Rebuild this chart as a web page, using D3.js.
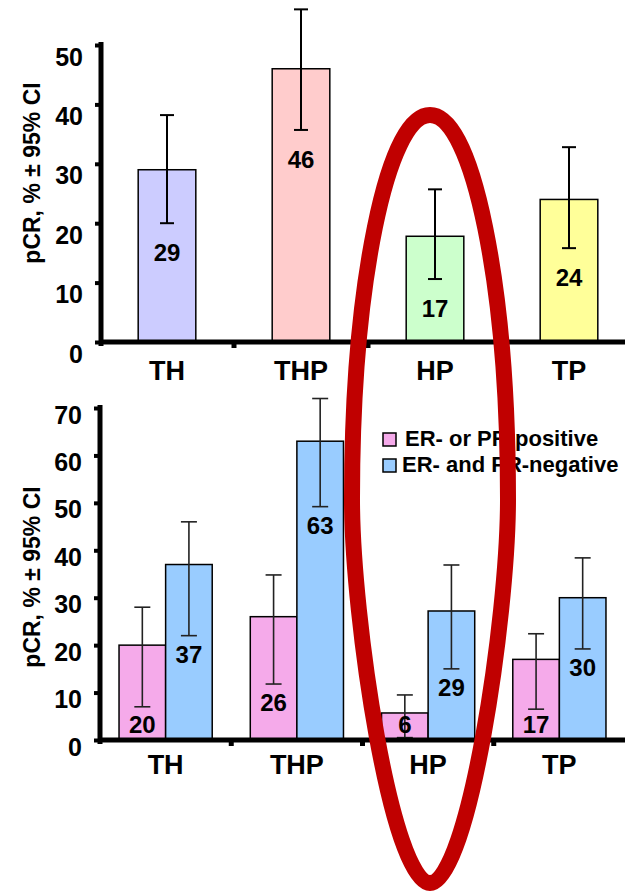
<!DOCTYPE html>
<html><head><meta charset="utf-8">
<script src="https://cdn.jsdelivr.net/npm/d3@7"></script>
<style>
body{margin:0;background:#fff}
text{font-family:"Liberation Sans",Arial,sans-serif;font-weight:bold;fill:#000}
</style>
</head><body><svg id="c" width="625" height="892"></svg>
<script>
// ---------- data ----------
const categories = ["TH", "THP", "HP", "TP"];
const topValues = [29, 46, 17.8, 24];
const topLabels = ["29", "46", "17", "24"];
const topLow = [20, 35.7, 10.6, 15.8];
const topHigh = [38.2, 56, 25.7, 32.8];
const topColors = ["#CCCCFF", "#FFCCCC", "#CCFFCC", "#FFFF99"];
const topTicks = [0, 10, 20, 30, 40, 50];

const seriesNames = ["ER- or PR-positive", "ER- and PR-negative"];
const seriesColors = ["#F5AAEA", "#99CCFF"];
const posValues = [20, 26, 5.7, 17];
const negValues = [37, 63, 27.2, 30];
const posLabels = ["20", "26", "6", "17"];
const negLabels = ["37", "63", "29", "30"];
const posLow = [7, 11.8, 0.5, 6.5];
const posHigh = [28, 34.8, 9.5, 22.4];
const negLow = [22, 49.2, 15, 19.2];
const negHigh = [46, 72, 36.9, 38.4];
const bottomTicks = [0, 10, 20, 30, 40, 50, 60, 70];
const yTitle = "pCR, % \u00B1 95% CI";

// ---------- drawing ----------
const svg = d3.select("#c");
svg.append("rect").attr("width", 625).attr("height", 892).attr("fill", "#fff");

function axes(g, x, y, ticks, o) {
  const y0 = y(0);
  g.append("line").attr("x1", o.axisX - 2).attr("x2", 625).attr("y1", y0).attr("y2", y0)
    .attr("stroke", "#000").attr("stroke-width", 5);
  g.selectAll(".bt").data(categories.slice(1)).join("line")
    .attr("x1", d => x(d)).attr("x2", d => x(d))
    .attr("y1", y0).attr("y2", y0 + 6).attr("stroke", "#000").attr("stroke-width", 5);
  g.selectAll(".cl").data(categories).join("text")
    .attr("x", d => x(d) + x.bandwidth() / 2).attr("y", y0 + o.catDy)
    .attr("text-anchor", "middle").attr("font-size", o.catSize).text(d => d);
  const ya = g.append("g").attr("transform", `translate(${o.axisX},0)`)
    .call(d3.axisLeft(y).tickValues(ticks).tickSize(6).tickSizeOuter(0).tickPadding(12));
  ya.select(".domain").attr("stroke", "#000").attr("stroke-width", 5)
    .attr("d", `M0,${y0 + 4}V${y.range()[1] - 3}`);
  ya.selectAll(".tick line").attr("stroke", "#000").attr("stroke-width", 4);
  ya.selectAll(".tick text").attr("font-size", o.tickSize).attr("dy", o.tickDy)
    .attr("font-family", "Liberation Sans, Arial, sans-serif").attr("font-weight", "bold").attr("fill", "#000");
  g.append("text").attr("transform", `translate(40,${o.titleY}) rotate(-90)`)
    .attr("text-anchor", "middle").attr("font-size", 23).text(yTitle);
}

// ---- top chart ----
const gTop = svg.append("g");
const x1 = d3.scaleBand().domain(categories).range([100, 636]).padding(0);
const y1 = d3.scaleLinear().domain([0, 50]).range([342, 45]);
const bw1 = x1.bandwidth() * 0.43;
const topData = categories.map((c, i) => ({c, v: topValues[i], lab: topLabels[i], lo: topLow[i], hi: topHigh[i], col: topColors[i]}));
const cx1 = d => x1(d.c) + x1.bandwidth() / 2;
gTop.selectAll(".bar").data(topData).join("rect")
  .attr("x", d => cx1(d) - bw1 / 2).attr("width", bw1)
  .attr("y", d => y1(d.v)).attr("height", d => y1(0) - y1(d.v))
  .attr("fill", d => d.col).attr("stroke", "#000").attr("stroke-width", 1.5);
const eb1 = gTop.selectAll(".eb").data(topData).join("g");
eb1.append("line").attr("x1", cx1).attr("x2", cx1).attr("y1", d => y1(d.lo)).attr("y2", d => y1(d.hi))
  .attr("stroke", "#000").attr("stroke-width", 2);
[ "lo", "hi" ].forEach(k => eb1.append("line")
  .attr("x1", d => cx1(d) - 7).attr("x2", d => cx1(d) + 7)
  .attr("y1", d => y1(d[k])).attr("y2", d => y1(d[k])).attr("stroke", "#000").attr("stroke-width", 2));
gTop.selectAll(".vl").data(topData).join("text")
  .attr("x", cx1).attr("y", d => y1(d.lo) + 38).attr("text-anchor", "middle")
  .attr("font-size", 24).text(d => d.lab);
axes(gTop, x1, y1, topTicks, {axisX: 101, catDy: 38, catSize: 27, tickSize: 25, tickDy: "0.8em", titleY: 173});

// ---- bottom chart ----
const gBot = svg.append("g");
const x2 = d3.scaleBand().domain(categories).range([100, 625]).padding(0);
const y2 = d3.scaleLinear().domain([0, 70]).range([740, 408]);
const xs = d3.scaleBand().domain([0, 1]).range([0, x2.bandwidth() * 0.71]);
const off = x2.bandwidth() * (1 - 0.71) / 2;
const botData = [];
categories.forEach((c, i) => {
  botData.push({c, s: 0, v: posValues[i], lab: posLabels[i], lo: posLow[i], hi: posHigh[i]});
  botData.push({c, s: 1, v: negValues[i], lab: negLabels[i], lo: negLow[i], hi: negHigh[i]});
});
const bx = d => x2(d.c) + off + xs(d.s);
const bcx = d => bx(d) + xs.bandwidth() / 2;
gBot.selectAll(".bar").data(botData).join("rect")
  .attr("x", bx).attr("width", xs.bandwidth())
  .attr("y", d => y2(d.v)).attr("height", d => y2(0) - y2(d.v))
  .attr("fill", d => seriesColors[d.s]).attr("stroke", "#000").attr("stroke-width", 1.5);
const eb2 = gBot.selectAll(".eb").data(botData).join("g");
eb2.append("line").attr("x1", bcx).attr("x2", bcx).attr("y1", d => y2(d.lo)).attr("y2", d => y2(d.hi))
  .attr("stroke", "#222").attr("stroke-width", 1.6);
[ "lo", "hi" ].forEach(k => eb2.append("line")
  .attr("x1", d => bcx(d) - 8).attr("x2", d => bcx(d) + 8)
  .attr("y1", d => y2(d[k])).attr("y2", d => y2(d[k])).attr("stroke", "#222").attr("stroke-width", 1.6));
gBot.selectAll(".vl").data(botData).join("text")
  .attr("x", bcx).attr("y", d => Math.min(y2(d.lo) + 27, y2(0) - 7)).attr("text-anchor", "middle")
  .attr("font-size", 24).text(d => d.lab);
axes(gBot, x2, y2, bottomTicks, {axisX: 100, catDy: 34, catSize: 27, tickSize: 25, tickDy: "0.6em", titleY: 577});

// legend
const lg = svg.append("g").attr("transform", "translate(383,433)");
const li = lg.selectAll("g").data(seriesNames).join("g").attr("transform", (d, i) => `translate(0,${i * 26})`);
li.append("rect").attr("width", 13).attr("height", 13).attr("fill", (d, i) => seriesColors[i])
  .attr("stroke", "#000").attr("stroke-width", 1.5);
li.append("text").attr("x", (d, i) => i ? 19 : 22).attr("y", 13).attr("font-size", 22).text(d => d);

// red oval annotation
const cx = 430, cy = 499, rx = 78, ryTop = 384, bottomY = 883;
const p = d3.path();
p.moveTo(cx - rx, cy);
p.bezierCurveTo(cx - rx, cy - ryTop * 0.5523, cx - rx * 0.5523, cy - ryTop, cx, cy - ryTop);
p.bezierCurveTo(cx + rx * 0.5523, cy - ryTop, cx + rx, cy - ryTop * 0.5523, cx + rx, cy);
p.bezierCurveTo(cx + rx, cy + 120, cx + 38, bottomY, cx, bottomY);
p.bezierCurveTo(cx - 38, bottomY, cx - rx, cy + 120, cx - rx, cy);
p.closePath();
svg.append("path").attr("d", p.toString()).attr("fill", "none")
  .attr("stroke", "#C00000").attr("stroke-width", 16);
</script></body></html>
